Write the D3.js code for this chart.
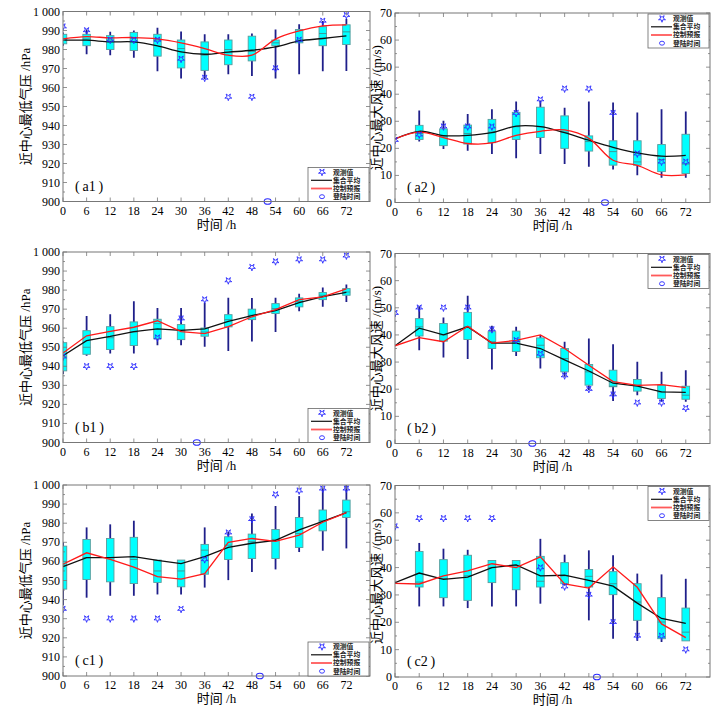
<!DOCTYPE html>
<html>
<head>
<meta charset="utf-8">
<script src="https://cdn.jsdelivr.net/npm/d3@7"></script>
<style>
  body { margin: 0; background: #fff; }
  text { font-family: "Liberation Serif", "Noto Sans CJK SC", serif; }
</style>
</head>
<body>
<svg id="chart" width="726" height="706"></svg>
<script>
const hours = [0, 6, 12, 18, 24, 30, 36, 42, 48, 54, 60, 66, 72];
const xTicks = hours;
const pressureTicks = [900, 910, 920, 930, 940, 950, 960, 970, 980, 990, 1000];
const windTicks = [0, 10, 20, 30, 40, 50, 60, 70];
const legendNames = ["观测值", "集合平均", "控制预报", "登陆时间"];

// box rows: [low whisker, q1, median, q3, high whisker]
const a1Box = [[982, 983, 985.5, 988, 989], [977.5, 982, 985.5, 988, 990.5], [977, 980, 985, 987.3, 989.3],
  [975.7, 979.5, 986, 989, 990], [968.5, 976.5, 985, 988, 991.5], [964.7, 970.3, 980.5, 985, 989.5],
  [964.5, 969, 977, 984, 988], [967, 972, 980, 985, 988], [966, 974, 979, 987, 988.4],
  [964.7, 982, 983.5, 985, 990.5], [967, 983.5, 985, 990.5, 993.3], [968.5, 982, 988.4, 992, 995],
  [968.7, 982.6, 989.3, 993, 996]];
const a1Obs = [992, 990, 985, 985, 985, 975, 965, 955, 955, 970, 985, 995, 998];
const a1Mean = [984.9, 984.9, 984, 984, 981.9, 978.7, 977.5, 978.6, 979.6, 981.4, 984.5, 985.8, 987.2];
const a1Ctrl = [985.6, 986.8, 986.1, 986.3, 985.6, 983.5, 980.5, 977, 977, 985.5, 989.8, 992.4, 993];

const a2Box = [null, [22.5, 23.3, 25.5, 28.5, 34], [19.8, 21, 24.3, 27.2, 30.2], [19.1, 21.6, 25.5, 28.6, 32.7],
  [17.9, 22.1, 26, 30.7, 34.4], [16.3, 23.3, 28, 33.3, 37.3], [17.9, 24, 28, 35.2, 37.7],
  [14.2, 20, 26, 32, 35], [13.2, 19, 22.5, 24.6, 37.3], [12.2, 13.8, 18.8, 22.8, 36.9],
  [10.1, 13.8, 15, 22.8, 33.2], [9.1, 11.4, 15.9, 21.4, 34.4], [9.1, 10.7, 14.2, 25.2, 33.6]];
const a2Obs = [23, 25, 28, 28, 28, 33, 38, 42, 42, 33, 18, 15, 15];
const a2Mean = [23.5, 26.3, 24.7, 24.8, 25.8, 28.2, 28, 25.8, 23, 20.4, 18.3, 17.1, 17.4];
const a2Ctrl = [23.5, 26, 24, 21.8, 22, 24.8, 26.3, 26.8, 23.7, 15.6, 13.7, 10.2, 10.2];

const b1Box = [[936, 937.6, 945, 952.4, 953], [945.5, 946.3, 950, 958.7, 966.4], [946.7, 948.8, 955, 960.8, 967.3],
  [946.7, 950.9, 958, 963.3, 974.1], [951, 954.4, 962.4, 964.7, 970.6], [951, 954, 958.9, 961.9, 970.6],
  [950.2, 955.8, 958, 960.1, 973.3], [948, 960.7, 964.5, 967.1, 976], [953, 964.5, 966.8, 970, 975.9],
  [958, 967.7, 970.3, 972.9, 976], [968.9, 971.2, 974.1, 975.9, 978.1], [971.2, 975, 977.3, 978.7, 981.3],
  [973.8, 977.3, 979, 980.8, 983]];
const b1Obs = [945, 940, 940, 940, 955, 965, 975, 985, 992, 995, 996, 996, 998];
const b1Mean = [945.5, 953.5, 955.7, 958.2, 959.6, 958.9, 959.6, 963.6, 966.6, 969.2, 973.4, 976.6, 978.8];
const b1Ctrl = [947, 956, 958.3, 960.5, 963.9, 958.2, 957.2, 960.8, 966, 969.7, 975, 976.4, 980.6];

const b2Box = [null, [34.4, 39.6, 43, 46, 50.6], [31.7, 37.7, 40, 44.2, 46.4], [31.1, 38.3, 43, 48.3, 54.4],
  [27.3, 35, 37.5, 41.2, 43.4], [32.2, 33.9, 37.5, 41.4, 43], [27.6, 31.6, 36.2, 38.9, 40],
  [24.6, 26.4, 31.3, 35, 37.5], [19.7, 21.5, 26.4, 29.1, 38.7], [15.7, 20.9, 21.1, 27, 36.6],
  [17.8, 19.3, 21.5, 23.6, 30.1], [15.4, 16.6, 19, 21.5, 26.4], [15.4, 16.3, 17.8, 21.1, 27]];
const b2Obs = [48, 50, 50, 50, 42, 38, 33, 25, 20, 18, 15, 15, 13];
const b2Mean = [36, 42.5, 40, 43, 37, 37, 35, 30.8, 26.7, 22.2, 21.1, 19, 18.8];
const b2Ctrl = [36, 39, 37.5, 43.2, 37, 38, 40, 35, 28.8, 22.8, 21.4, 21.7, 20.6];

const c1Box = [[937, 945.5, 958, 968, 970], [941, 950.5, 962, 971.5, 977.8], [942, 949.3, 962, 972, 979.4],
  [942, 948.4, 961, 972.6, 981.3], [942.7, 949, 955, 960.7, 960.7], [942.7, 946.7, 955, 960.7, 960.7],
  [946.3, 953.3, 965.9, 968.9, 977.8], [950.2, 961, 968.5, 972.9, 975.5], [954.4, 961.5, 970.3, 974.3, 985.1],
  [955.8, 961.5, 971.5, 976.7, 989], [964.9, 967.3, 974.6, 983, 994.2], [965.6, 976, 981.3, 986.9, 998.3],
  [966.8, 983, 986, 992.1, 1000]];
const c1Obs = [935, 930, 930, 930, 930, 935, 961, 975, 982, 995, 997, 998, 998];
const c1Mean = [957.2, 962, 962, 962.5, 960.5, 958.8, 962.5, 967.3, 969.5, 971, 976.5, 981, 985.5];
const c1Ctrl = [958.5, 964.5, 961, 957, 952, 950.7, 953.6, 970, 972, 970.5, 973.8, 980.5, 985.5];

const c2Box = [null, [25.8, 32.9, 34.7, 45.9, 49], [25.8, 29, 36, 42.9, 46.9], [25.2, 28, 37, 44.5, 46.5],
  [25.8, 34.5, 40, 42.6, 42.6], [25.8, 31.9, 40.8, 42.6, 42.6], [26.8, 32.9, 35, 44.1, 50.5],
  [33.5, 34.1, 37, 41.8, 44.7], [20.7, 32.9, 36.8, 39.3, 46.3], [14, 30.1, 34.1, 38.5, 44.5],
  [13.2, 20.7, 27.4, 34.1, 37.8], [12.8, 14, 20.1, 29, 37.5], [13.2, 13.2, 16.4, 25.2, 35.9]];
const c2Obs = [55, 58, 58, 58, 58, null, 40, 33, 30, 20, 15, 15, 10];
const c2Mean = [34.5, 38, 35.7, 36.5, 40, 41, 37, 37.2, 35.3, 33.2, 27, 21.4, 19.6];
const c2Ctrl = [34.2, 34, 37, 38.8, 41.4, 40, 43.9, 34, 32.5, 40.3, 32.8, 19.4, 14.4];

const landingA = 52, landingB = 34, landingC = 50;

const svg = d3.select("#chart");

const panels = [
  { id: "a1", kind: "p", x: [63, 370], y: [201.5, 11.5], box: a1Box, obs: a1Obs, mean: a1Mean, ctrl: a1Ctrl, land: landingA, smooth: true },
  { id: "a2", kind: "w", x: [395, 710], y: [202.5, 13], box: a2Box, obs: a2Obs, mean: a2Mean, ctrl: a2Ctrl, land: landingA, smooth: true },
  { id: "b1", kind: "p", x: [63, 370], y: [442.5, 252], box: b1Box, obs: b1Obs, mean: b1Mean, ctrl: b1Ctrl, land: landingB },
  { id: "b2", kind: "w", x: [395, 710], y: [443.5, 253.5], box: b2Box, obs: b2Obs, mean: b2Mean, ctrl: b2Ctrl, land: landingB },
  { id: "c1", kind: "p", x: [63, 370], y: [676, 485], box: c1Box, obs: c1Obs, mean: c1Mean, ctrl: c1Ctrl, land: landingC },
  { id: "c2", kind: "w", x: [395, 710], y: [677, 485.5], box: c2Box, obs: c2Obs, mean: c2Mean, ctrl: c2Ctrl, land: landingC },
];

const starPath = d3.symbol().type(d3.symbolStar).size(15);

panels.forEach(p => {
  let x = d3.scaleLinear().domain([0, 78]).range(p.x);
  let y = p.kind === "p"
    ? d3.scaleLinear().domain([900, 1000]).range(p.y)
    : d3.scaleLinear().domain([0, 70]).range(p.y);
  let ticks = p.kind === "p" ? pressureTicks : windTicks;
  let minor = p.kind === "p" ? d3.range(905, 1000, 10) : d3.range(5, 70, 10);
  let g = svg.append("g");
  let [x0, x1] = p.x;
  let [yb, yt] = p.y;

  g.append("clipPath").attr("id", "clip-" + p.id)
    .append("rect").attr("x", x0).attr("y", yt).attr("width", x1 - x0).attr("height", yb - yt);
  let plot = g.append("g").attr("clip-path", `url(#clip-${p.id})`);

  // boxes
  let bw = x(0.95) - x(0);
  p.box.forEach((b, i) => {
    if (!b) return;
    let cx = x(hours[i]);
    plot.append("line").attr("x1", cx).attr("x2", cx).attr("y1", y(b[0])).attr("y2", y(b[1]))
      .attr("stroke", "#1f1f8a").attr("stroke-width", 1.8);
    plot.append("line").attr("x1", cx).attr("x2", cx).attr("y1", y(b[3])).attr("y2", y(b[4]))
      .attr("stroke", "#1f1f8a").attr("stroke-width", 1.8);
    plot.append("rect").attr("x", cx - bw).attr("y", y(b[3])).attr("width", 2 * bw)
      .attr("height", Math.max(0.5, y(b[1]) - y(b[3])))
      .attr("fill", "#00ffff").attr("stroke", "#5a9c9c").attr("stroke-width", 0.9);
    plot.append("line").attr("x1", cx - bw).attr("x2", cx + bw).attr("y1", y(b[2])).attr("y2", y(b[2]))
      .attr("stroke", "#3f8f8f").attr("stroke-width", 0.9);
  });

  let line = d3.line().x((d, i) => x(hours[i])).y(d => y(d))
    .curve(p.smooth ? d3.curveCatmullRom.alpha(0.5) : d3.curveLinear);
  plot.append("path").attr("d", line(p.mean)).attr("fill", "none").attr("stroke", "#111").attr("stroke-width", 1.3);
  plot.append("path").attr("d", line(p.ctrl)).attr("fill", "none").attr("stroke", "#ff1a1a").attr("stroke-width", 1.3);

  p.obs.forEach((v, i) => {
    if (v == null) return;
    plot.append("path").attr("d", starPath())
      .attr("transform", `translate(${x(hours[i])},${y(v)}) rotate(180)`)
      .attr("fill", "none").attr("stroke", "#2a2aff").attr("stroke-width", 0.9);
  });

  g.append("ellipse").attr("cx", x(p.land)).attr("cy", y.range()[0]).attr("rx", 3.5).attr("ry", 2.8)
    .attr("fill", "none").attr("stroke", "#2a2aff").attr("stroke-width", 1.1);

  // frame and ticks (inside, all four sides)
  g.append("rect").attr("x", x0).attr("y", yt).attr("width", x1 - x0).attr("height", yb - yt)
    .attr("fill", "none").attr("stroke", "#777").attr("stroke-width", 1);
  let tk = g.append("g").attr("stroke", "#777").attr("stroke-width", 0.8);
  xTicks.forEach(t => {
    tk.append("line").attr("x1", x(t)).attr("x2", x(t)).attr("y1", yb).attr("y2", yb - 4);
    tk.append("line").attr("x1", x(t)).attr("x2", x(t)).attr("y1", yt).attr("y2", yt + 4);
  });
  ticks.forEach(t => {
    tk.append("line").attr("x1", x0).attr("x2", x0 + 4).attr("y1", y(t)).attr("y2", y(t));
    tk.append("line").attr("x1", x1).attr("x2", x1 - 4).attr("y1", y(t)).attr("y2", y(t));
  });
  minor.forEach(t => {
    tk.append("line").attr("x1", x0).attr("x2", x0 + 2).attr("y1", y(t)).attr("y2", y(t));
    tk.append("line").attr("x1", x1).attr("x2", x1 - 2).attr("y1", y(t)).attr("y2", y(t));
  });

  g.selectAll(".xl").data(xTicks).join("text")
    .attr("x", d => x(d)).attr("y", yb + 13).attr("text-anchor", "middle")
    .attr("font-size", 12).text(d => d);
  g.selectAll(".yl").data(ticks).join("text")
    .attr("x", x0 - 3).attr("y", d => y(d) + 4).attr("text-anchor", "end")
    .attr("font-size", 12).text(d => d === 1000 ? "1 000" : d);

  g.append("text").attr("x", (x0 + x1) / 2).attr("y", yb + 27).attr("text-anchor", "middle")
    .attr("font-size", 13).text("时间 /h");
  let ylx = p.kind === "p" ? 30 : 381;
  g.append("text").attr("transform", `translate(${ylx},${(yb + yt) / 2}) rotate(-90)`)
    .attr("text-anchor", "middle").attr("font-size", 13)
    .text(p.kind === "p" ? "近中心最低气压 /hPa" : "近中心最大风速 /(m/s)");

  g.append("text").attr("x", x0 + 12).attr("y", yb - 11).attr("font-size", 14)
    .text(`(\u2009${p.id}\u2009)`);

  // legend
  let lw = 61, lh = 34;
  let lx = x1 - lw - 1;
  let ly = p.kind === "p" ? yb - lh : yt + 1;
  let lg = g.append("g").attr("transform", `translate(${lx},${ly})`);
  lg.append("rect").attr("width", lw).attr("height", lh).attr("fill", "#fff").attr("stroke", "#666").attr("stroke-width", 0.8);
  let rowY = i => 4.6 + i * 8.2;
  lg.append("path").attr("d", starPath()).attr("transform", `translate(14,${rowY(0)}) rotate(180)`)
    .attr("fill", "none").attr("stroke", "#2a2aff").attr("stroke-width", 0.9);
  lg.append("line").attr("x1", 3).attr("x2", 24).attr("y1", rowY(1)).attr("y2", rowY(1)).attr("stroke", "#111").attr("stroke-width", 1.2);
  lg.append("line").attr("x1", 3).attr("x2", 24).attr("y1", rowY(2)).attr("y2", rowY(2)).attr("stroke", "#ff5a5a").attr("stroke-width", 1.8);
  lg.append("ellipse").attr("cx", 14).attr("cy", rowY(3)).attr("rx", 2.5).attr("ry", 2).attr("fill", "none")
    .attr("stroke", "#2a2aff").attr("stroke-width", 0.9);
  legendNames.forEach((n, i) => {
    lg.append("text").attr("x", 25).attr("y", rowY(i) + 2.4).attr("font-size", 6.8).attr("font-weight", "bold")
      .attr("fill", "#222").text(n);
  });
});
</script>
</body>
</html>
